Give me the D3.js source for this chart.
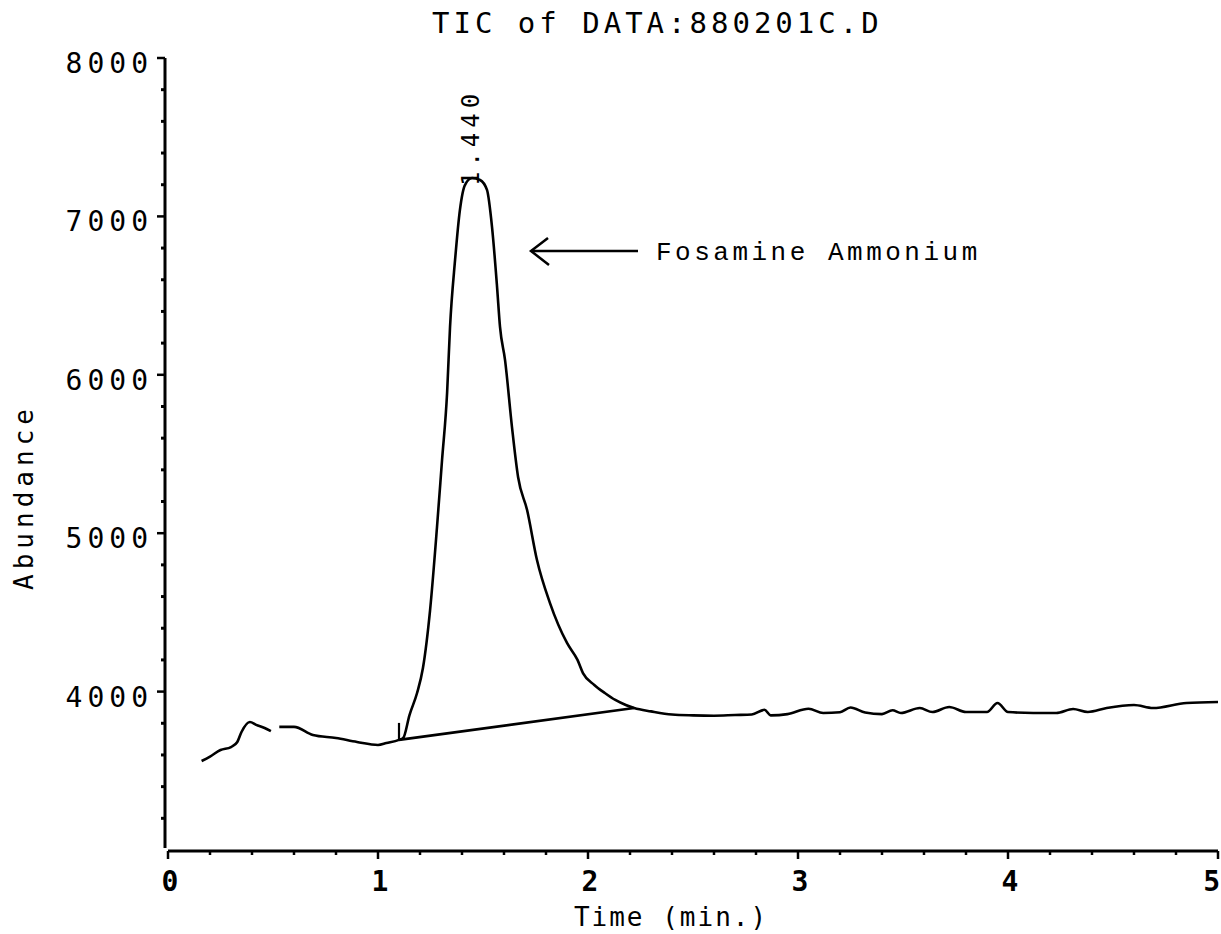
<!DOCTYPE html>
<html>
<head>
<meta charset="utf-8">
<script src="https://cdn.jsdelivr.net/npm/d3@7/dist/d3.min.js"></script>
<style>
  body { margin: 0; background: #fff; }
  svg { display: block; }
</style>
</head>
<body>
<div id="container"></div>
<script>
// TIC chromatogram
const chartTitle = "TIC of DATA:880201C.D";
const xLabel = "Time (min.)";
const yLabel = "Abundance";
const xTicks = [0, 1, 2, 3, 4, 5];
const yTicks = [4000, 5000, 6000, 7000, 8000];

// total ion current trace (null = pen lift)
const traceTime = [
  0.160, 0.200, 0.250, 0.300, 0.330, 0.350, 0.390, 0.420, 0.460, 0.490, 0.510, 0.530, 0.600, 0.690, 0.800, 0.900,
  1.000, 1.040, 1.100,
  1.120, 1.150, 1.186, 1.214, 1.248, 1.281, 1.305, 1.329, 1.343, 1.367, 1.390, 1.414, 1.448, 1.486, 1.519, 1.543,
  1.567, 1.581, 1.605, 1.638, 1.667, 1.710, 1.757, 1.819, 1.900, 1.950, 1.976, 2.030, 2.080, 2.130, 2.180, 2.220,
  2.300, 2.400, 2.500, 2.600, 2.700, 2.780, 2.840, 2.870, 2.950, 3.050, 3.120, 3.200, 3.250, 3.320, 3.400, 3.450, 3.490,
  3.580, 3.640, 3.720, 3.800, 3.900, 3.950, 4.000, 4.120, 4.230, 4.310, 4.380, 4.470, 4.600, 4.690, 4.850, 5.000
];
const traceAbund = [
  3562, 3590, 3631, 3650, 3682, 3745, 3808, 3790, 3770, 3750, null, 3777, 3777, 3726, 3707, 3682,
  3663, 3675, 3695,
  3707, 3852, 3991, 4149, 4515, 5039, 5462, 5885, 6302, 6725, 7040, 7198, 7242, 7230, 7167, 6933,
  6554, 6302, 6093, 5670, 5355, 5146, 4831, 4559, 4307, 4200, 4117, 4042, 3991, 3947, 3915, 3896,
  3875, 3855, 3850, 3848, 3852, 3855, 3885, 3850, 3858, 3892, 3865, 3870, 3900, 3868, 3858, 3882, 3865,
  3896, 3871, 3903, 3871, 3871, 3928, 3871, 3865, 3865, 3890, 3871, 3896, 3915, 3896, 3928, 3934
];

// integration baseline under the peak
const baseTime = [1.10, 2.22];
const baseAbund = [3695, 3896];

// peak annotation
const peakRT = 1.440;
const peakLabel = "1.440";
const peakTop = 7242;
const compound = "Fosamine Ammonium";

const W = 1221, H = 934;
const x = d3.scaleLinear().domain([0, 5]).range([168, 1218]);
const y = d3.scaleLinear().domain([3000, 8000]).range([850, 58]);

const svg = d3.select("#container").append("svg")
  .attr("width", W).attr("height", H);

const plotFont = "'DejaVu Sans Mono', monospace";

// Title
svg.append("text")
  .attr("x", 432).attr("y", 33)
  .style("font-family", plotFont)
  .style("font-size", "29px")
  .style("letter-spacing", "4px")
  .text(chartTitle);

// Y axis
const yAxis = svg.append("g")
  .attr("transform", `translate(${x(0) - 3},0)`);
yAxis.append("line")
  .attr("y1", y(8000)).attr("y2", y(3000) - 2)
  .attr("stroke", "#000").attr("stroke-width", 3);
const yMinor = d3.range(3200, 8000, 200).filter(v => v % 1000 !== 0);
yAxis.selectAll(".yminor").data(yMinor).enter().append("line")
  .attr("x1", -4).attr("x2", 0)
  .attr("y1", d => y(d)).attr("y2", d => y(d))
  .attr("stroke", "#000").attr("stroke-width", 3);
yAxis.selectAll(".ymajor").data(yTicks).enter().append("line")
  .attr("x1", -8).attr("x2", 0)
  .attr("y1", d => y(d)).attr("y2", d => y(d))
  .attr("stroke", "#000").attr("stroke-width", 2.5);
yAxis.selectAll(".ylab").data(yTicks).enter().append("text")
  .attr("x", -12).attr("y", d => y(d) + 15)
  .attr("text-anchor", "end")
  .style("font-family", plotFont)
  .style("font-size", "28px")
  .style("letter-spacing", "5px")
  .text(d => d);

// X axis
const xAxis = svg.append("g")
  .attr("transform", `translate(0,${y(3000) + 1})`);
xAxis.append("line")
  .attr("x1", x(0)).attr("x2", x(5))
  .attr("stroke", "#000").attr("stroke-width", 3);
const xMinor = d3.range(0.2, 5, 0.2).filter(v => Math.abs(v - Math.round(v)) > 0.01);
xAxis.selectAll(".xminor").data(xMinor).enter().append("line")
  .attr("x1", d => x(d)).attr("x2", d => x(d))
  .attr("y1", 0).attr("y2", 4)
  .attr("stroke", "#000").attr("stroke-width", 2.5);
xAxis.selectAll(".xmajor").data(xTicks).enter().append("line")
  .attr("x1", d => x(d)).attr("x2", d => x(d))
  .attr("y1", 0).attr("y2", 8)
  .attr("stroke", "#000").attr("stroke-width", 2.5);
xAxis.selectAll(".xlab").data(xTicks).enter().append("text")
  .attr("x", d => x(d) + 2).attr("y", 40)
  .attr("text-anchor", d => d === 5 ? "end" : "middle")
  .style("font-family", plotFont)
  .style("font-size", "28px")
  .style("font-weight", "bold")
  .text(d => d);

// Axis titles
svg.append("text")
  .attr("x", 671).attr("y", 926)
  .attr("text-anchor", "middle")
  .style("font-family", plotFont)
  .style("font-size", "26px")
  .style("letter-spacing", "2px")
  .text(xLabel);

svg.append("text")
  .attr("transform", "translate(33,497) rotate(-90)")
  .attr("text-anchor", "middle")
  .style("font-family", plotFont)
  .style("font-size", "26px")
  .style("letter-spacing", "5px")
  .text(yLabel);

// Trace
const traceData = traceTime.map((t, i) => ({ t, v: traceAbund[i] }));
const line = d3.line()
  .defined(d => d.v !== null)
  .x(d => x(d.t))
  .y(d => y(d.v))
  .curve(d3.curveMonotoneX);

svg.append("path")
  .datum(traceData)
  .attr("d", line)
  .attr("fill", "none")
  .attr("stroke", "#000")
  .attr("stroke-width", 2.6)
  .attr("stroke-linejoin", "round");

// Integration baseline + start marker
const baseData = baseTime.map((t, i) => ({ t, v: baseAbund[i] }));
svg.append("path")
  .datum(baseData)
  .attr("d", line)
  .attr("fill", "none")
  .attr("stroke", "#000")
  .attr("stroke-width", 2.6);

svg.append("line")
  .attr("x1", x(baseTime[0])).attr("x2", x(baseTime[0]))
  .attr("y1", y(baseAbund[0])).attr("y2", y(baseAbund[0]) - 17)
  .attr("stroke", "#000").attr("stroke-width", 2.2);

// Peak retention time label
svg.append("text")
  .attr("transform", `translate(${x(peakRT) + 9},${y(peakTop) + 8}) rotate(-90)`)
  .style("font-family", plotFont)
  .style("font-size", "24px")
  .style("letter-spacing", "5px")
  .text(peakLabel);

// Compound annotation with arrow
const arrowY = 251;
svg.append("line")
  .attr("x1", 531).attr("x2", 638)
  .attr("y1", arrowY).attr("y2", arrowY)
  .attr("stroke", "#000").attr("stroke-width", 2.5);
svg.append("path")
  .attr("d", `M548,238 L531,${arrowY} L549,265`)
  .attr("fill", "none")
  .attr("stroke", "#000").attr("stroke-width", 2.5);
svg.append("text")
  .attr("x", 656).attr("y", 260)
  .style("font-family", "'Liberation Mono', monospace")
  .style("font-size", "26px")
  .style("letter-spacing", "3.5px")
  .text(compound);
</script>
</body>
</html>
